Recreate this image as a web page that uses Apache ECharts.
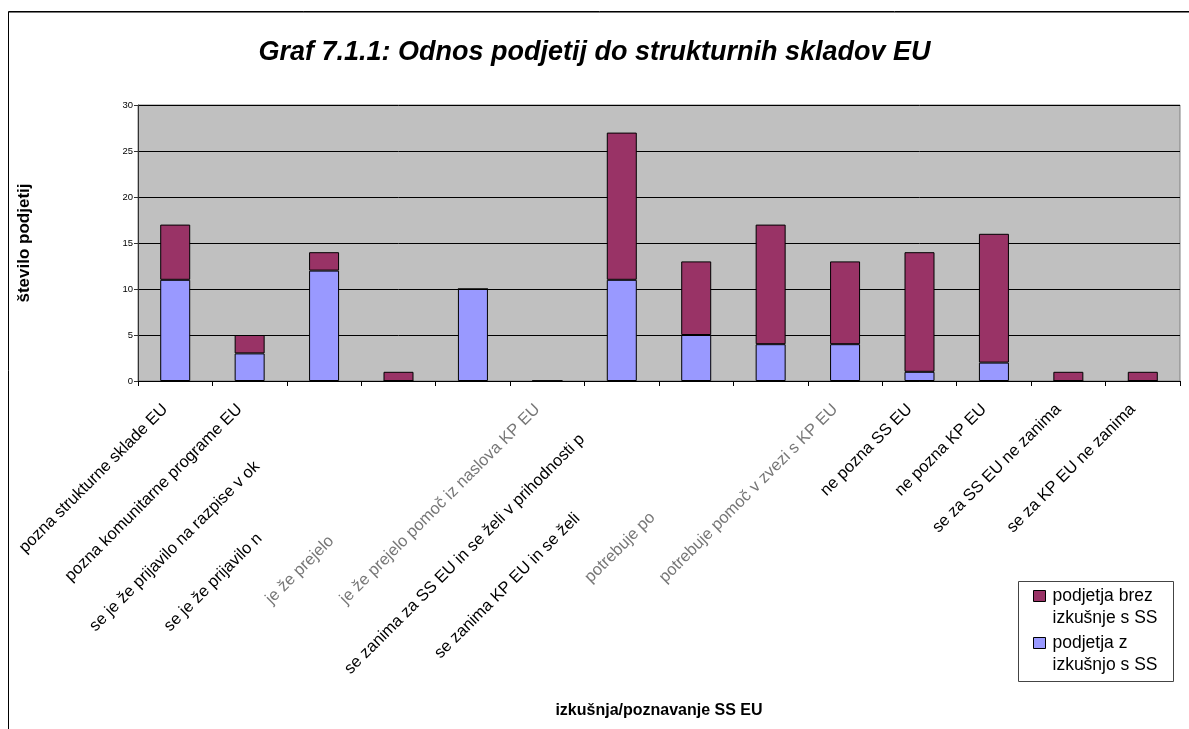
<!DOCTYPE html>
<html>
<head>
<meta charset="utf-8">
<title>Graf 7.1.1</title>
<script src="https://cdn.jsdelivr.net/npm/echarts@6.0.0/dist/echarts.min.js"></script>
<style>
  html, body { margin: 0; padding: 0; background: #fff; }
  #main { width: 1189px; height: 729px; }
</style>
</head>
<body>
<div id="main"></div>
<script>
// kategorije (polna besedila) in koliko znakov je v izvirniku vidnih
var categories = [
  'pozna strukturne sklade EU',
  'pozna komunitarne programe EU',
  'se je že prijavilo na razpise v okviru SS EU',
  'se je že prijavilo na razpise v okviru KP EU',
  'je že prejelo pomoč iz naslova SS EU',
  'je že prejelo pomoč iz naslova KP EU',
  'se zanima za SS EU in se želi v prihodnosti prijaviti',
  'se zanima KP EU in se želi v prihodnosti prijaviti',
  'potrebuje pomoč v zvezi s SS EU',
  'potrebuje pomoč v zvezi s KP EU',
  'ne pozna SS EU',
  'ne pozna KP EU',
  'se za SS EU ne zanima',
  'se za KP EU ne zanima'
];
var visibleChars = [null, null, 34, 20, 13, null, 45, 26, 12, null, null, null, null, null];

var seriesNames = ['podjetja brez izkušnje s SS', 'podjetja z izkušnjo s SS'];
var withExp    = [11, 3, 12, 0, 10, 0, 11, 5, 4, 4, 1, 2, 0, 0];
var withoutExp = [6, 2, 2, 1, 0, 0, 16, 8, 13, 9, 13, 14, 1, 1];

var yTicks = { min: 0, max: 30, interval: 5 };

var chart = echarts.init(document.getElementById('main'));

var fainter = [4, 5, 8, 9]; // ti napisi so v izvirniku bledi
var font = 'Liberation Sans, Arial, sans-serif';

var option = {
  animation: false,
  textStyle: { fontFamily: font },
  title: {
    text: 'Graf 7.1.1: Odnos podjetij do strukturnih skladov EU',
    left: 'center',
    top: 34,
    textStyle: { fontSize: 27, fontWeight: 'bold', fontStyle: 'italic', color: '#000' }
  },
  graphic: [
    {
      type: 'rect', silent: true, z: 0,
      shape: { x: 8.5, y: 11.5, width: 1300, height: 900 },
      style: { fill: null, stroke: '#000', lineWidth: 1 }
    },
    {
      type: 'line', silent: true, z: 0,
      shape: { x1: 9, y1: 12.5, x2: 1189, y2: 12.5 },
      style: { stroke: '#777', lineWidth: 1 }
    },
    {
      // okvir legende
      type: 'rect', silent: true, z: 0,
      shape: { x: 1018.5, y: 581.5, width: 155, height: 100 },
      style: { fill: '#fff', stroke: '#444', lineWidth: 1 }
    }
  ],
  legend: {
    data: seriesNames,
    orient: 'vertical',
    left: 1033,
    top: 572,
    padding: 0,
    itemGap: -8,
    itemWidth: 12,
    itemHeight: 11,
    icon: 'rect',
    itemStyle: { borderColor: '#000', borderWidth: 1 },
    // prazna vrstica zgoraj, da je ikona poravnana s prvo vrstico besedila
    formatter: function (name) {
      var parts = name.replace(' izkuš', '\nizkuš').split('\n');
      return '{e| }\n{a|' + parts[0] + '}\n{a|' + parts[1] + '}';
    },
    textStyle: {
      color: '#000',
      padding: [0, 0, 0, 2],
      rich: {
        e: { fontSize: 4, lineHeight: 22 },
        a: { fontSize: 17.5, lineHeight: 22, color: '#000' }
      }
    }
  },
  grid: {
    left: 138, right: 9, top: 105, bottom: 348,
    show: true,
    backgroundColor: '#C0C0C0',
    borderColor: '#808080',
    borderWidth: 1,
    outerBoundsMode: 'none'
  },
  xAxis: {
    type: 'category',
    data: categories,
    name: 'izkušnja/poznavanje SS EU',
    nameLocation: 'middle',
    nameGap: 322,
    nameMoveOverlap: false,
    nameTextStyle: { fontSize: 16, fontWeight: 'bold', color: '#000' },
    axisLine: { lineStyle: { color: '#000', width: 1 } },
    axisTick: { show: true, length: 5, lineStyle: { color: '#000' } },
    axisLabel: {
      interval: 0,
      rotate: 45,
      margin: 16,
      padding: [0, 14, 0, 0],
      color: '#000',
      formatter: function (value, idx) {
        var st = fainter.indexOf(idx) >= 0 ? 'g' : 's';
        var n = visibleChars[idx];
        if (n == null) return '{' + st + '|' + value + '}';
        return '{' + st + '|' + value.slice(0, n) + '}{h|' + value.slice(n) + '}';
      },
      rich: {
        s: { fontSize: 16.5, color: '#000' },
        g: { fontSize: 16.5, color: '#777' },
        h: { fontSize: 16.5, color: 'rgba(0,0,0,0)' }
      }
    }
  },
  yAxis: {
    type: 'value',
    min: yTicks.min,
    max: yTicks.max,
    interval: yTicks.interval,
    name: 'število podjetij',
    nameLocation: 'middle',
    nameGap: 105,
    nameTextStyle: { fontSize: 17, fontWeight: 'bold', color: '#000' },
    axisLine: { show: true, lineStyle: { color: '#333' } },
    axisTick: { show: true, length: 4, lineStyle: { color: '#333' } },
    axisLabel: { fontSize: 9.5, color: '#000', margin: 5 },
    splitLine: { lineStyle: { color: '#000', width: 1 } }
  },
  series: [
    {
      name: seriesNames[1],
      type: 'bar',
      stack: 'skupaj',
      barWidth: 30,
      data: withExp,
      itemStyle: { color: '#9999FF', borderColor: '#000', borderWidth: 1 }
    },
    {
      name: seriesNames[0],
      type: 'bar',
      stack: 'skupaj',
      barWidth: 30,
      data: withoutExp,
      itemStyle: { color: '#993366', borderColor: '#000', borderWidth: 1 }
    }
  ]
};

chart.setOption(option);
</script>
</body>
</html>
